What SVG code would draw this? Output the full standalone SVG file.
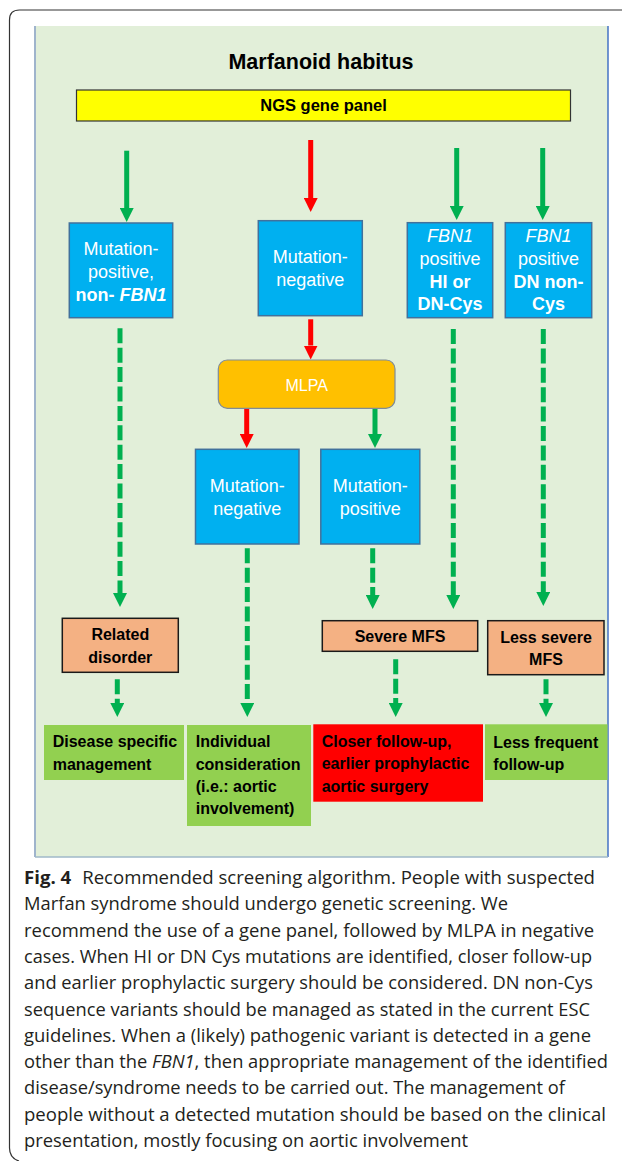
<svg xmlns="http://www.w3.org/2000/svg" width="622" height="1161" viewBox="0 0 622 1161">
<style>
.d{font-family:"Liberation Sans",Arial,sans-serif}
.w{fill:#fff;font-size:18px;text-anchor:middle}
.b{font-weight:bold}
.k{fill:#000;font-size:16px;font-weight:bold}
.blue{fill:#00b0f0;stroke:#41719c;stroke-width:1.5}
.peach{fill:#f4b183;stroke:#1a1a1a;stroke-width:1.5}
.sg{stroke:#00b050;stroke-width:5;fill:none}
.sr{stroke:#ff0000;stroke-width:5;fill:none}
.dg{stroke:#00b050;stroke-width:5;fill:none;stroke-dasharray:15 4.4}
.cap{font-family:"Open Sans","Noto Sans",sans-serif;font-size:18px;fill:#231f20}
</style>
<defs>
<marker id="hg" markerUnits="userSpaceOnUse" markerWidth="14" markerHeight="14" refX="0" refY="7" orient="auto">
<path d="M0,0 L14,7 L0,14 z" fill="#00b050"/>
</marker>
<marker id="hr" markerUnits="userSpaceOnUse" markerWidth="14" markerHeight="14" refX="0" refY="7" orient="auto">
<path d="M0,0 L14,7 L0,14 z" fill="#ff0000"/>
</marker>
</defs>
<rect width="622" height="1161" fill="#fff"/>
<path d="M19,1161 Q9.5,1158 9.5,1148 L9.5,20 Q9.5,10 19.5,10 L622,10" fill="none" stroke="#333" stroke-width="1.2"/>
<g id="panel">
<rect x="35" y="26" width="573" height="831" fill="#e2efd9"/>
<line x1="35" y1="26" x2="35" y2="857" stroke="#9fb4cc" stroke-width="2"/>
<line x1="608" y1="26" x2="608" y2="857" stroke="#4472c4" stroke-width="1.5"/>
<line x1="35" y1="857" x2="608" y2="857" stroke="#9fb8c8" stroke-width="1.5"/>
</g>
<g id="title"><text class="d b" x="321" y="68.5" font-size="21.5" text-anchor="middle" fill="#000">Marfanoid habitus</text></g>
<g id="ngs">
<rect x="76.5" y="90" width="494" height="31" fill="#ffff00" stroke="#333" stroke-width="1.2"/>
<text class="d b" x="323.5" y="111" font-size="16.5" text-anchor="middle" fill="#000">NGS gene panel</text>
</g>
<g id="connectors">
<line class="sg" x1="126.7" y1="150.7" x2="126.7" y2="208" marker-end="url(#hg)"/>
<line class="sr" x1="310.7" y1="140" x2="310.7" y2="198" marker-end="url(#hr)"/>
<line class="sg" x1="456.7" y1="148" x2="456.7" y2="206" marker-end="url(#hg)"/>
<line class="sg" x1="542.7" y1="148" x2="542.7" y2="206" marker-end="url(#hg)"/>
<line class="sr" x1="310.7" y1="319.3" x2="310.7" y2="345.5" marker-end="url(#hr)"/>
<line class="sr" x1="246.7" y1="409" x2="246.7" y2="434" marker-end="url(#hr)"/>
<line class="sg" x1="375" y1="409" x2="375" y2="434" marker-end="url(#hg)"/>
<line class="dg" x1="120" y1="328.3" x2="120" y2="593" marker-end="url(#hg)"/>
<line class="dg" x1="247.3" y1="548.3" x2="247.3" y2="703" marker-end="url(#hg)"/>
<line class="dg" x1="372.7" y1="548.3" x2="372.7" y2="595" marker-end="url(#hg)"/>
<line class="dg" x1="453.3" y1="329" x2="453.3" y2="595" marker-end="url(#hg)"/>
<line class="dg" x1="543.3" y1="329" x2="543.3" y2="592" marker-end="url(#hg)"/>
<line class="dg" x1="117.3" y1="679.3" x2="117.3" y2="703" marker-end="url(#hg)"/>
<line class="dg" x1="395.7" y1="659.3" x2="395.7" y2="703" marker-end="url(#hg)"/>
<line class="dg" x1="546" y1="679.3" x2="546" y2="703" marker-end="url(#hg)"/>
</g>
<g id="n1">
<rect class="blue" x="69.3" y="223" width="103.4" height="94.7"/>
<text class="d w" x="121" y="255">Mutation-</text>
<text class="d w" x="121" y="278">positive,</text>
<text class="d w" x="121" y="301"><tspan class="b">non- </tspan><tspan class="b" font-style="italic">FBN1</tspan></text>
</g>
<g id="n2">
<rect class="blue" x="258.3" y="220.7" width="104" height="95"/>
<text class="d w" x="310.3" y="263">Mutation-</text>
<text class="d w" x="310.3" y="286">negative</text>
</g>
<g id="n3">
<rect class="blue" x="407.3" y="222.7" width="85.4" height="95"/>
<text class="d w" x="450" y="242" font-style="italic">FBN1</text>
<text class="d w" x="450" y="265">positive</text>
<text class="d w b" x="450" y="288">HI or</text>
<text class="d w b" x="450" y="310">DN-Cys</text>
</g>
<g id="n4">
<rect class="blue" x="505.3" y="222.7" width="86.4" height="95"/>
<text class="d w" x="548.5" y="242" font-style="italic">FBN1</text>
<text class="d w" x="548.5" y="265">positive</text>
<text class="d w b" x="548.5" y="288">DN non-</text>
<text class="d w b" x="548.5" y="310">Cys</text>
</g>
<g id="mlpa">
<rect x="218.3" y="360" width="176.7" height="48.3" rx="9" fill="#ffc000" stroke="#7f8c99" stroke-width="1.2"/>
<text class="d" x="306.7" y="390.5" font-size="16" fill="#fff" text-anchor="middle">MLPA</text>
</g>
<g id="n5">
<rect class="blue" x="195.5" y="449.3" width="103.5" height="94.7"/>
<text class="d w" x="247.3" y="492">Mutation-</text>
<text class="d w" x="247.3" y="515">negative</text>
</g>
<g id="n6">
<rect class="blue" x="320.8" y="449.3" width="99" height="94.7"/>
<text class="d w" x="370.3" y="492">Mutation-</text>
<text class="d w" x="370.3" y="515">positive</text>
</g>
<g id="related">
<rect class="peach" x="62.3" y="618.3" width="116" height="54"/>
<text class="d k" x="120.3" y="640" text-anchor="middle">Related</text>
<text class="d k" x="120.3" y="662.7" text-anchor="middle">disorder</text>
</g>
<g id="severe">
<rect class="peach" x="322.3" y="620.7" width="155.4" height="30.6"/>
<text class="d k" x="400" y="642.3" text-anchor="middle">Severe MFS</text>
</g>
<g id="lesssevere">
<rect class="peach" x="487.7" y="620.7" width="116.3" height="54"/>
<text class="d k" x="546" y="642.7" text-anchor="middle">Less severe</text>
<text class="d k" x="546" y="665" text-anchor="middle">MFS</text>
</g>
<g id="disease">
<rect x="44" y="725" width="140" height="55" fill="#92d050"/>
<text class="d k" x="52.7" y="747.3">Disease specific</text>
<text class="d k" x="52.7" y="769.5">management</text>
</g>
<g id="individual">
<rect x="187" y="725" width="124" height="101" fill="#92d050"/>
<text class="d k" x="195.7" y="747.3">Individual</text>
<text class="d k" x="195.7" y="769.5">consideration</text>
<text class="d k" x="195.7" y="791.7">(i.e.: aortic</text>
<text class="d k" x="195.7" y="814">involvement)</text>
</g>
<g id="closer">
<rect x="313.3" y="724.3" width="169.7" height="77.4" fill="#ff0000"/>
<text class="d k" x="321.7" y="746.7">Closer follow-up,</text>
<text class="d k" x="321.7" y="769.3">earlier prophylactic</text>
<text class="d k" x="321.7" y="791.7">aortic surgery</text>
</g>
<g id="lessfrequent">
<rect x="485" y="724.3" width="122.5" height="55.7" fill="#92d050"/>
<text class="d k" x="493.3" y="748">Less frequent</text>
<text class="d k" x="493.3" y="770">follow-up</text>
</g>
<g id="caption" class="cap">
<text x="24" y="884" textLength="571" lengthAdjust="spacingAndGlyphs"><tspan font-weight="bold">Fig. 4</tspan><tspan dx="6"> Recommended screening algorithm. People with suspected</tspan></text>
<text x="24" y="910.3" textLength="484" lengthAdjust="spacingAndGlyphs">Marfan syndrome should undergo genetic screening. We</text>
<text x="24" y="936.6" textLength="570" lengthAdjust="spacingAndGlyphs">recommend the use of a gene panel, followed by MLPA in negative</text>
<text x="24" y="962.9" textLength="568" lengthAdjust="spacingAndGlyphs">cases. When HI or DN Cys mutations are identified, closer follow-up</text>
<text x="24" y="989.2" textLength="569" lengthAdjust="spacingAndGlyphs">and earlier prophylactic surgery should be considered. DN non-Cys</text>
<text x="24" y="1015.5" textLength="566" lengthAdjust="spacingAndGlyphs">sequence variants should be managed as stated in the current ESC</text>
<text x="24" y="1041.8" textLength="567" lengthAdjust="spacingAndGlyphs">guidelines. When a (likely) pathogenic variant is detected in a gene</text>
<text x="24" y="1068.1" textLength="584" lengthAdjust="spacingAndGlyphs">other than the <tspan font-style="italic">FBN1</tspan>, then appropriate management of the identified</text>
<text x="24" y="1094.4" textLength="541" lengthAdjust="spacingAndGlyphs">disease/syndrome needs to be carried out. The management of</text>
<text x="24" y="1120.7" textLength="582" lengthAdjust="spacingAndGlyphs">people without a detected mutation should be based on the clinical</text>
<text x="24" y="1147" textLength="444" lengthAdjust="spacingAndGlyphs">presentation, mostly focusing on aortic involvement</text>
</g>
</svg>
